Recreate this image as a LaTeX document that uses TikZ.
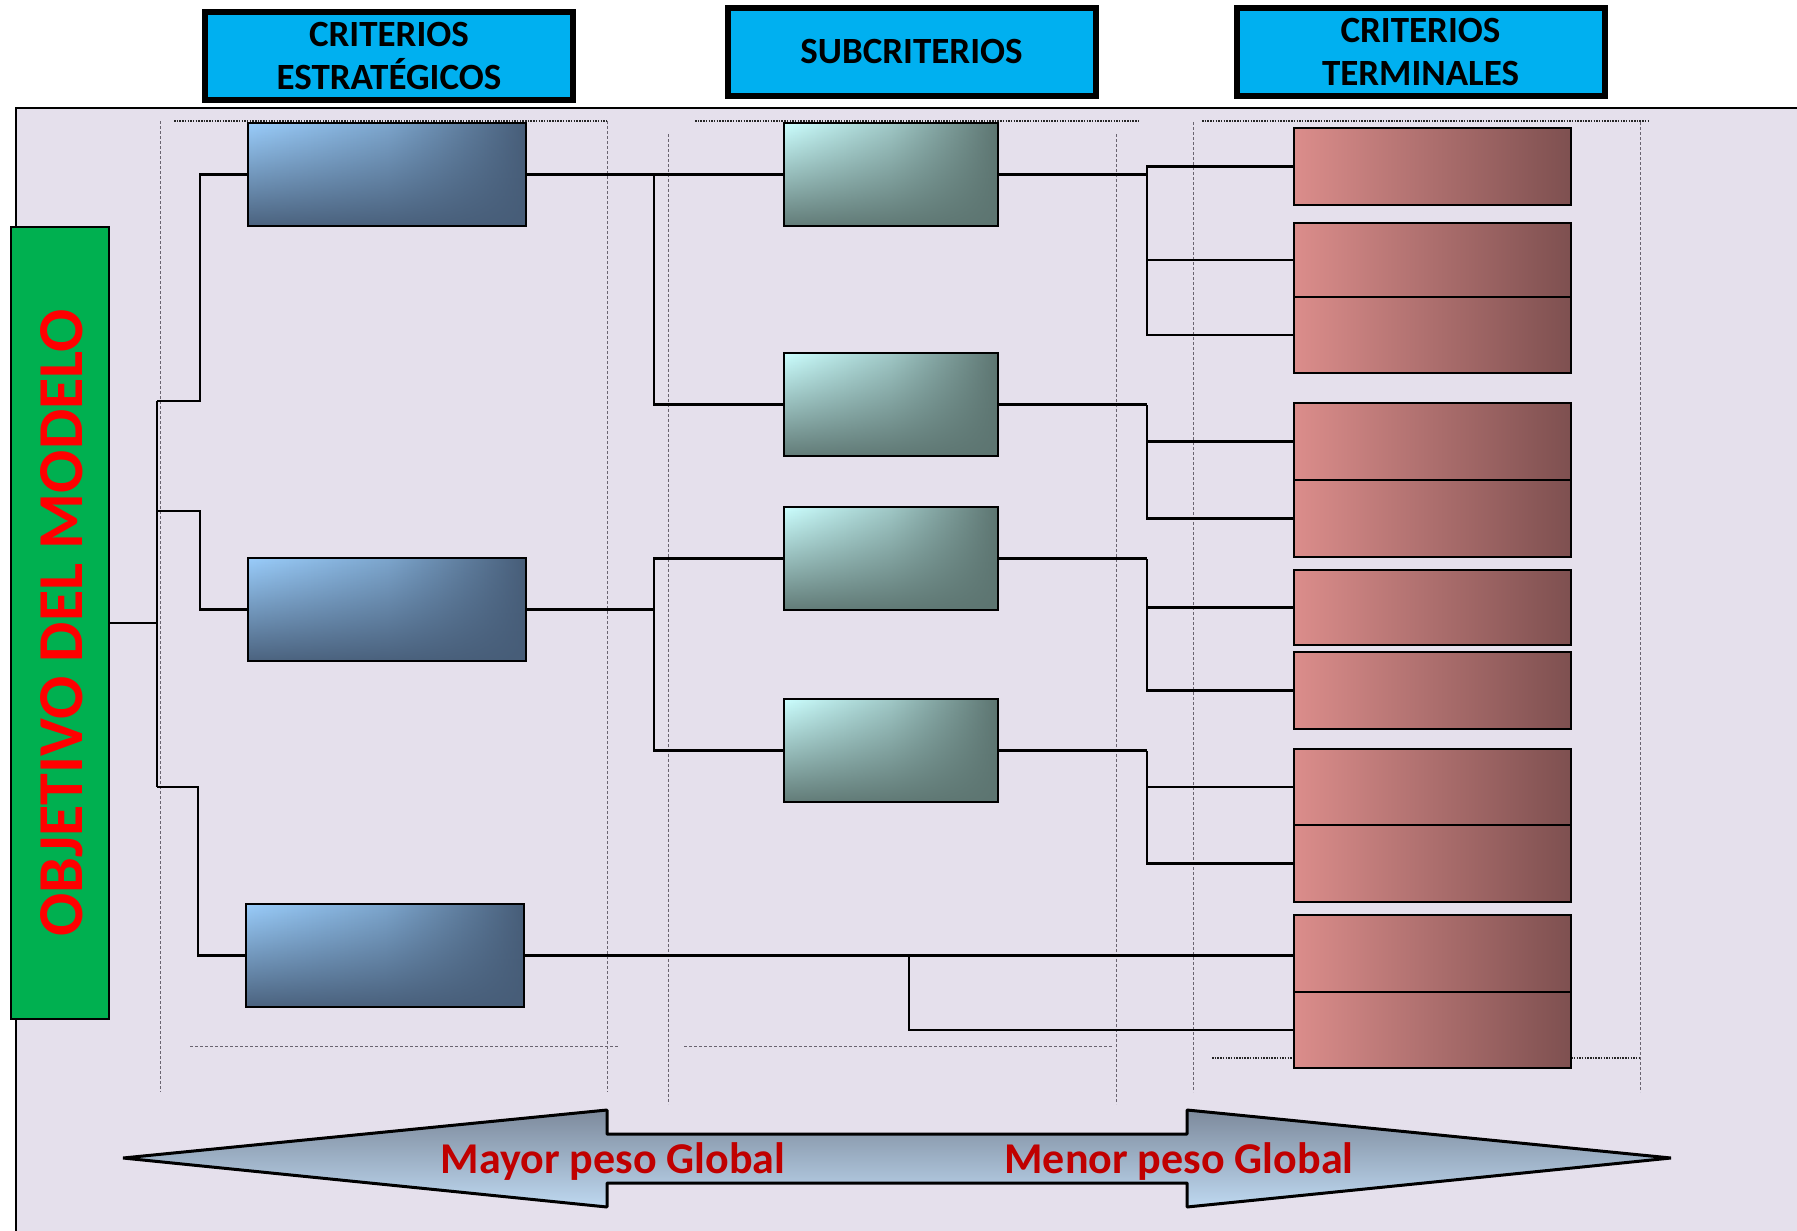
\documentclass[tikz,border=0pt]{standalone}
\usepackage{fontspec}
\usetikzlibrary{fadings}
\setmainfont{Carlito}
\definecolor{panelbg}{HTML}{E5E0EC}
\definecolor{hdrblue}{HTML}{00B0F0}
\definecolor{objgreen}{HTML}{00B050}
\definecolor{stratA}{HTML}{9ACDFB}
\definecolor{stratB}{HTML}{475D78}
\definecolor{subA}{HTML}{CCFFFF}
\definecolor{subB}{HTML}{5D7571}
\definecolor{termA}{HTML}{DB8D8B}
\definecolor{termB}{HTML}{7E5050}
\definecolor{arrTop}{HTML}{7D8A9C}
\definecolor{arrBot}{HTML}{BED8F0}
\definecolor{lblred}{HTML}{C00000}
\definecolor{guide}{HTML}{6A6470}
\tikzfading[name=fadeup, top color=transparent!100, middle color=transparent!82, bottom color=transparent!5]
\begin{document}
\begin{tikzpicture}[x=1pt,y=-1pt,
  hdr/.style={draw=black, line width=6pt, fill=hdrblue, minimum width=368pt, minimum height=88pt,
    inner sep=0pt, outer sep=0pt, align=center, font=\fontsize{37}{43.5}\selectfont\bfseries},
  strat/.style={draw=black, line width=2pt, left color=stratA, right color=stratB, middle color=stratA!65!stratB,
    minimum width=278pt, minimum height=103pt, inner sep=0pt, outer sep=0pt},
  subc/.style={draw=black, line width=2pt, left color=subA, right color=subB, middle color=subA!60!subB,
    minimum width=214pt, minimum height=103pt, inner sep=0pt, outer sep=0pt},
  term/.style={draw=black, line width=2pt, left color=termA, right color=termB,
    minimum width=277pt, minimum height=#1, inner sep=0pt, outer sep=0pt},
  conn/.style={draw=black, line width=2.5pt},
  guideline/.style={draw=guide, line width=1pt, dash pattern=on 3pt off 2pt},
  dotline/.style={draw=black!85, line width=1.5pt, dash pattern=on 1.5pt off 1.2pt},
  lbl/.style={text=lblred, font=\fontsize{44}{52}\selectfont\bfseries, inner sep=0pt}
]
\useasboundingbox (0,0) rectangle (1797,1231);
\fill[white] (0,0) rectangle (1797,1231);
% panel
\fill[panelbg] (16,108) rectangle (1797,1231);
\draw[line width=2.5pt] (16,1231) -- (16,108) -- (1797,108);

% guide lines
\draw[guideline] (160,121) -- (160,1092);
\draw[guideline] (607,121) -- (607,1092);
\draw[guideline] (668,134) -- (668,1104);
\draw[guideline] (1116,134) -- (1116,1104);
\draw[guideline] (1193,122) -- (1193,1092);
\draw[guideline] (1640,122) -- (1640,1092);
\draw[dotline] (174,121) -- (607,121);
\draw[dotline] (695,121) -- (1140,121);
\draw[dotline] (1202,121) -- (1649,121);
\draw[guideline] (190,1046) -- (619,1046);
\draw[guideline] (684,1046) -- (1112,1046);
\draw[dotline] (1212,1058) -- (1640,1058);

% headers
\node[hdr] (h1) at (389,56) {CRITERIOS\\ESTRATÉGICOS};
\node[hdr] (h2) at (911.5,52) {SUBCRITERIOS};
\node[hdr] (h3) at (1420.5,52) {CRITERIOS\\TERMINALES};

% objective
\node[draw=black, line width=2pt, fill=objgreen, minimum width=98pt, minimum height=792pt,
  inner sep=0pt, outer sep=0pt] (obj) at (60,623) {};
\node[rotate=90, text=red, font=\fontsize{64}{72}\selectfont\bfseries, inner sep=0pt] (objtxt) at (62,623) {OBJETIVO DEL MODELO};

% junctions
\coordinate (j0) at (157,623);
\coordinate (trTop) at (157,401);
\coordinate (trMid) at (157,511);
\coordinate (trBot) at (157,787);
\coordinate (k1) at (654,174.5);
\coordinate (k2) at (654,609.5);
\coordinate (k3) at (909,955.5);
\coordinate (m1) at (1147,174.5);
\coordinate (m2) at (1147,404.5);
\coordinate (m3) at (1147,558.5);
\coordinate (m4) at (1147,750.5);

% strategic
\node[strat] (e1) at (387,174.5) {};
\node[strat] (e2) at (387,609.5) {};
\node[strat] (e3) at (385,955.5) {};
% sub
\node[subc] (s1) at (891,174.5) {};
\node[subc] (s2) at (891,404.5) {};
\node[subc] (s3) at (891,558.5) {};
\node[subc] (s4) at (891,750.5) {};
% shading overlays (darker towards the bottom), then borders again
\foreach \n in {e1,e2,e3} {
  \fill[stratB, path fading=fadeup] (\n.south west) rectangle (\n.north east);
  \draw[black, line width=2pt] (\n.south west) rectangle (\n.north east);
}
\foreach \n in {s1,s2,s3,s4} {
  \fill[subB, path fading=fadeup] (\n.south west) rectangle (\n.north east);
  \draw[black, line width=2pt] (\n.south west) rectangle (\n.north east);
}
% terminal
\node[term=77pt] (t1) at (1432.5,166.5) {};
\node[term=74pt] (t2) at (1432.5,260) {};
\node[term=76pt] (t3) at (1432.5,335) {};
\node[term=77pt] (t4) at (1432.5,441.5) {};
\node[term=77pt] (t5) at (1432.5,518.5) {};
\node[term=75pt] (t6) at (1432.5,607.5) {};
\node[term=77pt] (t7) at (1432.5,690.5) {};
\node[term=76pt] (t8) at (1432.5,787) {};
\node[term=77pt] (t9) at (1432.5,863.5) {};
\node[term=77pt] (t10) at (1432.5,953.5) {};
\node[term=76pt] (t11) at (1432.5,1030) {};

% connectors
\draw[conn] (obj.east) -- (j0);
\draw[conn] (trTop) -- (trBot);
\draw[conn] (trTop) -- ++(43,0) |- (e1.west);
\draw[conn] (trMid) -- ++(43,0) |- (e2.west);
\draw[conn] (trBot) -- ++(41,0) |- (e3.west);

\draw[conn] (e1.east) -- (s1.west);
\draw[conn] (k1) |- (s2.west);
\draw[conn] (e2.east) -- (k2);
\draw[conn] (s3.west) -| (k2);
\draw[conn] (s4.west) -| (k2);
\draw[conn] (e3.east) -- (e3.east -| t10.west);
\draw[conn] (k3) |- (t11.west);

\draw[conn] (s1.east) -- (m1);
\draw[conn] (t1.west) -| (m1);
\draw[conn] (t2.west) -| (m1);
\draw[conn] (t3.west) -| (m1);
\draw[conn] (s2.east) -- (m2);
\draw[conn] (t4.west) -| (m2);
\draw[conn] (t5.west) -| (m2);
\draw[conn] (s3.east) -- (m3);
\draw[conn] (t6.west) -| (m3);
\draw[conn] (t7.west) -| (m3);
\draw[conn] (s4.east) -- (m4);
\draw[conn] (t8.west) -| (m4);
\draw[conn] (t9.west) -| (m4);

% double arrow
\path[draw=black, line width=3pt, line join=bevel, top color=arrTop, bottom color=arrBot]
  (123,1158) -- (607,1110) -- (607,1134) -- (1187,1134) -- (1187,1110) -- (1671,1158)
  -- (1187,1207) -- (1187,1183) -- (607,1183) -- (607,1207) -- cycle;
\node[lbl] (l1) at (613,1162) {Mayor peso Global};
\node[lbl] (l2) at (1179,1162) {Menor peso Global};
\end{tikzpicture}
\end{document}
